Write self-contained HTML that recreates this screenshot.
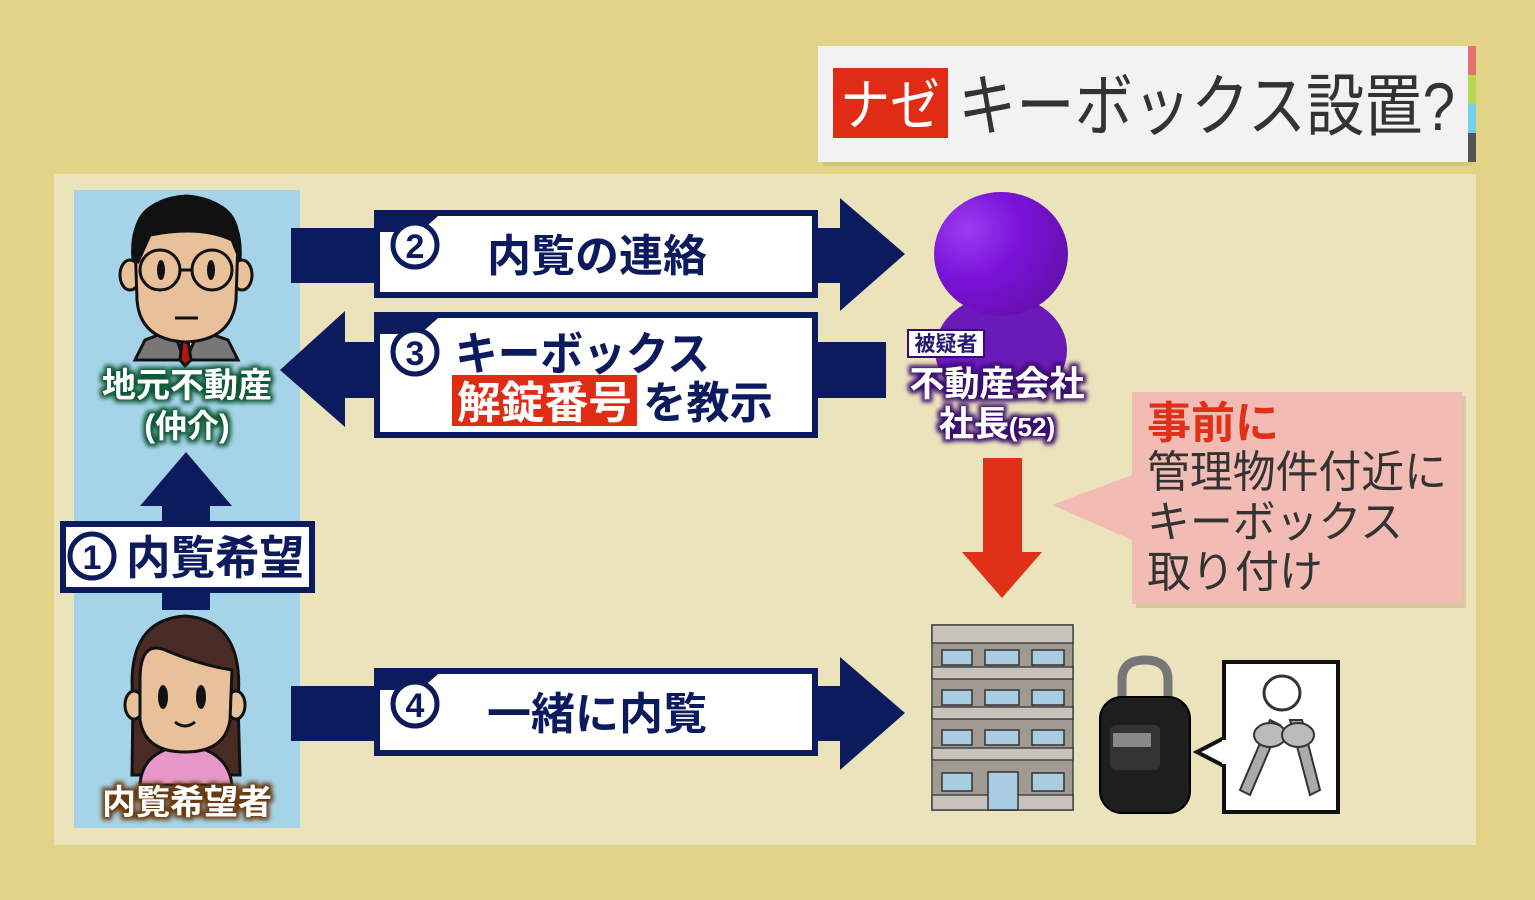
<!DOCTYPE html>
<html><head><meta charset="utf-8"><style>
html,body{margin:0;padding:0;width:1535px;height:900px;overflow:hidden;background:#e2d486}
svg{display:block}
text{font-family:"Liberation Sans","Noto Sans CJK JP",sans-serif}
</style></head><body>
<svg width="1535" height="900" viewBox="0 0 1535 900" xmlns="http://www.w3.org/2000/svg">
<defs>
<filter id="gGreen" x="-20%" y="-40%" width="140%" height="180%"><feMorphology in="SourceAlpha" operator="dilate" radius="3" result="d"/><feGaussianBlur in="d" stdDeviation="2" result="b"/><feFlood flood-color="#0f5a35"/><feComposite in2="b" operator="in" result="s"/><feMerge><feMergeNode in="s"/><feMergeNode in="SourceGraphic"/></feMerge></filter>
<filter id="gBrown" x="-20%" y="-40%" width="140%" height="180%"><feMorphology in="SourceAlpha" operator="dilate" radius="3" result="d"/><feGaussianBlur in="d" stdDeviation="2" result="b"/><feFlood flood-color="#6a3a10"/><feComposite in2="b" operator="in" result="s"/><feMerge><feMergeNode in="s"/><feMergeNode in="SourceGraphic"/></feMerge></filter>
<filter id="gPurple" x="-20%" y="-40%" width="140%" height="180%"><feMorphology in="SourceAlpha" operator="dilate" radius="3" result="d"/><feGaussianBlur in="d" stdDeviation="2" result="b"/><feFlood flood-color="#3a0a70"/><feComposite in2="b" operator="in" result="s"/><feMerge><feMergeNode in="s"/><feMergeNode in="SourceGraphic"/></feMerge></filter>
<radialGradient id="pg" cx="0.25" cy="0.3" r="0.8"><stop offset="0" stop-color="#9a3cf0"/><stop offset="0.5" stop-color="#7a12d8"/><stop offset="1" stop-color="#6510b0"/></radialGradient>
<clipPath id="bodyclip"><rect x="900" y="280" width="200" height="110"/></clipPath>
</defs>

<!-- panel -->
<rect x="54" y="174" width="1422" height="671" fill="#ebe3bb"/>
<rect x="74" y="190" width="226" height="638" fill="#a5d3e8"/>

<!-- title -->
<rect x="822" y="50" width="650" height="116" fill="#c8b860" opacity="0.5"/>
<rect x="818" y="46" width="650" height="116" fill="#f2f2f2"/>
<rect x="1468" y="46" width="8" height="29" fill="#e87070"/>
<rect x="1468" y="75" width="8" height="29" fill="#b8d850"/>
<rect x="1468" y="104" width="8" height="29" fill="#70d0ee"/>
<rect x="1468" y="133" width="8" height="29" fill="#555"/>
<rect x="833" y="68" width="115" height="70" fill="#e02c14"/>
<text x="890" y="125" font-size="56" fill="#fff" text-anchor="middle" textLength="100" lengthAdjust="spacingAndGlyphs">ナゼ</text>
<text x="958" y="130" font-size="68" fill="#333" textLength="497" lengthAdjust="spacingAndGlyphs">キーボックス設置?</text>

<!-- arrow 2 -->
<rect x="291" y="228" width="90" height="55" fill="#0c1a5e"/>
<rect x="815" y="228" width="30" height="55" fill="#0c1a5e"/>
<polygon points="840,198 905,254 840,311" fill="#0c1a5e"/>
<rect x="377" y="213" width="438" height="82" fill="#fff" stroke="#0c1a5e" stroke-width="6"/>
<polygon points="374,210 445,210 420,232 374,232" fill="#0c1a5e"/>
<circle cx="415" cy="245" r="22" fill="#fff" stroke="#0c1a5e" stroke-width="5"/>
<text x="415" y="258" font-size="34" font-weight="bold" fill="#0c1a5e" text-anchor="middle">2</text>
<text x="597" y="271" font-size="44" font-weight="bold" fill="#0c1a5e" text-anchor="middle">内覧の連絡</text>

<!-- arrow 3 -->
<rect x="815" y="342" width="71" height="56" fill="#0c1a5e"/>
<rect x="340" y="342" width="40" height="56" fill="#0c1a5e"/>
<polygon points="345,311 280,370 345,427" fill="#0c1a5e"/>
<rect x="377" y="315" width="438" height="120" fill="#fff" stroke="#0c1a5e" stroke-width="6"/>
<polygon points="374,312 445,312 420,334 374,334" fill="#0c1a5e"/>
<circle cx="415" cy="352" r="22" fill="#fff" stroke="#0c1a5e" stroke-width="5"/>
<text x="415" y="365" font-size="34" font-weight="bold" fill="#0c1a5e" text-anchor="middle">3</text>
<text x="455" y="370" font-size="46" font-weight="bold" fill="#0c1a5e" textLength="255" lengthAdjust="spacingAndGlyphs">キーボックス</text>
<rect x="452" y="375" width="185" height="51" fill="#e02c14"/>
<text x="457" y="418" font-size="44" font-weight="bold" fill="#fff" textLength="175" lengthAdjust="spacingAndGlyphs">解錠番号</text>
<text x="643" y="418" font-size="44" font-weight="bold" fill="#0c1a5e" textLength="130" lengthAdjust="spacingAndGlyphs">を教示</text>

<!-- arrow 1 -->
<polygon points="186,452 140,506 232,506" fill="#0c1a5e"/>
<rect x="162" y="504" width="48" height="106" fill="#0c1a5e"/>
<rect x="63" y="524" width="249" height="66" fill="#fff" stroke="#0c1a5e" stroke-width="6"/>
<circle cx="92" cy="556" r="22" fill="#fff" stroke="#0c1a5e" stroke-width="5"/>
<text x="92" y="569" font-size="34" font-weight="bold" fill="#0c1a5e" text-anchor="middle">1</text>
<text x="126" y="574" font-size="46" font-weight="bold" fill="#0c1a5e" textLength="178" lengthAdjust="spacingAndGlyphs">内覧希望</text>

<!-- arrow 4 -->
<rect x="291" y="686" width="90" height="55" fill="#0c1a5e"/>
<rect x="815" y="686" width="30" height="55" fill="#0c1a5e"/>
<polygon points="840,657 905,713 840,770" fill="#0c1a5e"/>
<rect x="377" y="671" width="438" height="82" fill="#fff" stroke="#0c1a5e" stroke-width="6"/>
<polygon points="374,668 445,668 420,690 374,690" fill="#0c1a5e"/>
<circle cx="415" cy="704" r="22" fill="#fff" stroke="#0c1a5e" stroke-width="5"/>
<text x="415" y="717" font-size="34" font-weight="bold" fill="#0c1a5e" text-anchor="middle">4</text>
<text x="597" y="729" font-size="44" font-weight="bold" fill="#0c1a5e" text-anchor="middle">一緒に内覧</text>

<!-- man -->
<g stroke="#111" stroke-width="3">
<path d="M135,360 L145,340 L185,325 L228,340 L238,360 Z" fill="#777"/>
<path d="M175,335 L185,362 L197,335 Z" fill="#fff"/>
<path d="M182,340 L188,340 L191,360 L185,366 L180,360 Z" fill="#b01818"/>
<ellipse cx="130" cy="275" rx="10" ry="15" fill="#e8c09a"/>
<ellipse cx="242" cy="275" rx="10" ry="15" fill="#e8c09a"/>
<path d="M135,240 Q135,200 186,198 Q238,200 238,240 L236,300 Q232,340 186,342 Q140,340 137,300 Z" fill="#e8c09a"/>
<path d="M133,260 Q128,200 186,196 Q244,200 240,260 L232,240 Q200,225 150,235 L138,262 Z" fill="#111"/>
<circle cx="160" cy="270" r="20" fill="none"/>
<circle cx="212" cy="270" r="20" fill="none"/>
<line x1="180" y1="270" x2="192" y2="270"/>
<line x1="175" y1="318" x2="198" y2="318"/>
</g>
<ellipse cx="161" cy="270" rx="4" ry="10" fill="#111"/>
<ellipse cx="211" cy="270" rx="4" ry="10" fill="#111"/>
<text x="187" y="397" font-size="34" font-weight="bold" fill="#fff" text-anchor="middle" filter="url(#gGreen)">地元不動産</text>
<text x="187" y="437" font-size="32" font-weight="bold" fill="#fff" text-anchor="middle" filter="url(#gGreen)">(仲介)</text>

<!-- woman -->
<g stroke="#111" stroke-width="3">
<path d="M133,700 Q125,620 185,616 Q245,620 238,700 L240,775 L132,775 Z" fill="#4a2a25"/>
<path d="M140,785 Q142,750 185,745 Q228,750 232,785 Z" fill="#e898c8"/>
<ellipse cx="134" cy="705" rx="9" ry="14" fill="#e8c09a"/>
<ellipse cx="236" cy="705" rx="9" ry="14" fill="#e8c09a"/>
<path d="M140,680 Q140,640 165,650 Q200,665 232,670 L230,720 Q225,752 185,752 Q145,752 140,720 Z" fill="#e8c09a"/>
<path d="M175,722 Q185,730 195,722" fill="none"/>
</g>
<ellipse cx="163" cy="697" rx="5" ry="12" fill="#111"/>
<ellipse cx="201" cy="697" rx="5" ry="12" fill="#111"/>
<text x="187" y="814" font-size="34" font-weight="bold" fill="#fff" text-anchor="middle" filter="url(#gBrown)">内覧希望者</text>

<!-- suspect -->
<ellipse cx="1001" cy="350" rx="66" ry="55" fill="#6a1ab8" clip-path="url(#bodyclip)"/>
<ellipse cx="1001" cy="254" rx="67" ry="62" fill="url(#pg)"/>
<rect x="908" y="330" width="76" height="27" fill="#fff" stroke="#3a0a70" stroke-width="2"/>
<text x="946" y="351" font-size="21" font-weight="bold" fill="#2a1a70" text-anchor="middle">被疑者</text>
<text x="997" y="396" font-size="35" font-weight="bold" fill="#fff" text-anchor="middle" filter="url(#gPurple)">不動産会社</text>
<text x="997" y="436" font-size="35" font-weight="bold" fill="#fff" text-anchor="middle" filter="url(#gPurple)">社長<tspan font-size="26">(52)</tspan></text>

<!-- red arrow -->
<rect x="983" y="458" width="39" height="97" fill="#e03018"/>
<polygon points="962,552 1042,552 1002,598" fill="#e03018"/>

<!-- callout -->
<rect x="1136" y="396" width="330" height="212" fill="#b8a870" opacity="0.4"/>
<polygon points="1132,475 1052,505 1132,540" fill="#f2bcb4"/>
<rect x="1132" y="392" width="330" height="212" fill="#f2bcb4"/>
<text x="1147" y="438" font-size="44" font-weight="bold" fill="#e03018">事前に</text>
<text x="1147" y="487" font-size="44" fill="#333" textLength="300" lengthAdjust="spacingAndGlyphs">管理物件付近に</text>
<text x="1147" y="537" font-size="44" fill="#333" textLength="256" lengthAdjust="spacingAndGlyphs">キーボックス</text>
<text x="1147" y="587" font-size="44" fill="#333">取り付け</text>

<!-- building -->
<g stroke="#444" stroke-width="1.5">
<rect x="932" y="625" width="141" height="185" fill="#a09a92"/>
<rect x="932" y="625" width="141" height="18" fill="#c8c2ba"/>
<rect x="932" y="667" width="141" height="12" fill="#c8c2ba"/>
<rect x="932" y="707" width="141" height="12" fill="#c8c2ba"/>
<rect x="932" y="748" width="141" height="12" fill="#c8c2ba"/>
<rect x="932" y="795" width="141" height="15" fill="#c8c2ba"/>
</g>
<g fill="#a8cce0" stroke="#333" stroke-width="1.5">
<rect x="942" y="650" width="30" height="15"/><rect x="985" y="650" width="34" height="15"/><rect x="1032" y="650" width="32" height="15"/>
<rect x="942" y="690" width="30" height="15"/><rect x="985" y="690" width="34" height="15"/><rect x="1032" y="690" width="32" height="15"/>
<rect x="942" y="730" width="30" height="15"/><rect x="985" y="730" width="34" height="15"/><rect x="1032" y="730" width="32" height="15"/>
<rect x="942" y="773" width="30" height="18"/><rect x="988" y="772" width="30" height="38"/><rect x="1032" y="773" width="32" height="18"/>
</g>

<!-- lock -->
<path d="M1122,705 L1122,680 Q1122,660 1145,660 Q1168,660 1168,680 L1168,705" fill="none" stroke="#777" stroke-width="9"/>
<rect x="1100" y="697" width="90" height="116" rx="22" fill="#1e1e1e" stroke="#000" stroke-width="2"/>
<rect x="1110" y="725" width="50" height="45" rx="6" fill="#333"/>
<rect x="1113" y="733" width="38" height="14" fill="#888"/>

<!-- keys box -->
<polygon points="1224,738 1197,752 1224,766" fill="#fff" stroke="#111" stroke-width="4"/>
<rect x="1224" y="662" width="114" height="150" fill="#fff" stroke="#111" stroke-width="4"/>
<rect x="1222" y="740" width="6" height="24" fill="#fff"/>
<ellipse cx="1282" cy="693" rx="18" ry="17" fill="none" stroke="#333" stroke-width="3"/>
<path d="M1270,720 L1240,790 L1250,795 L1280,725 Z" fill="#aaa" stroke="#333" stroke-width="2"/>
<path d="M1290,720 L1310,795 L1320,790 L1302,720 Z" fill="#aaa" stroke="#333" stroke-width="2"/>
<ellipse cx="1270" cy="735" rx="16" ry="12" fill="#bbb" stroke="#333" stroke-width="2"/>
<ellipse cx="1298" cy="735" rx="16" ry="12" fill="#bbb" stroke="#333" stroke-width="2"/>
</svg>
</body></html>
